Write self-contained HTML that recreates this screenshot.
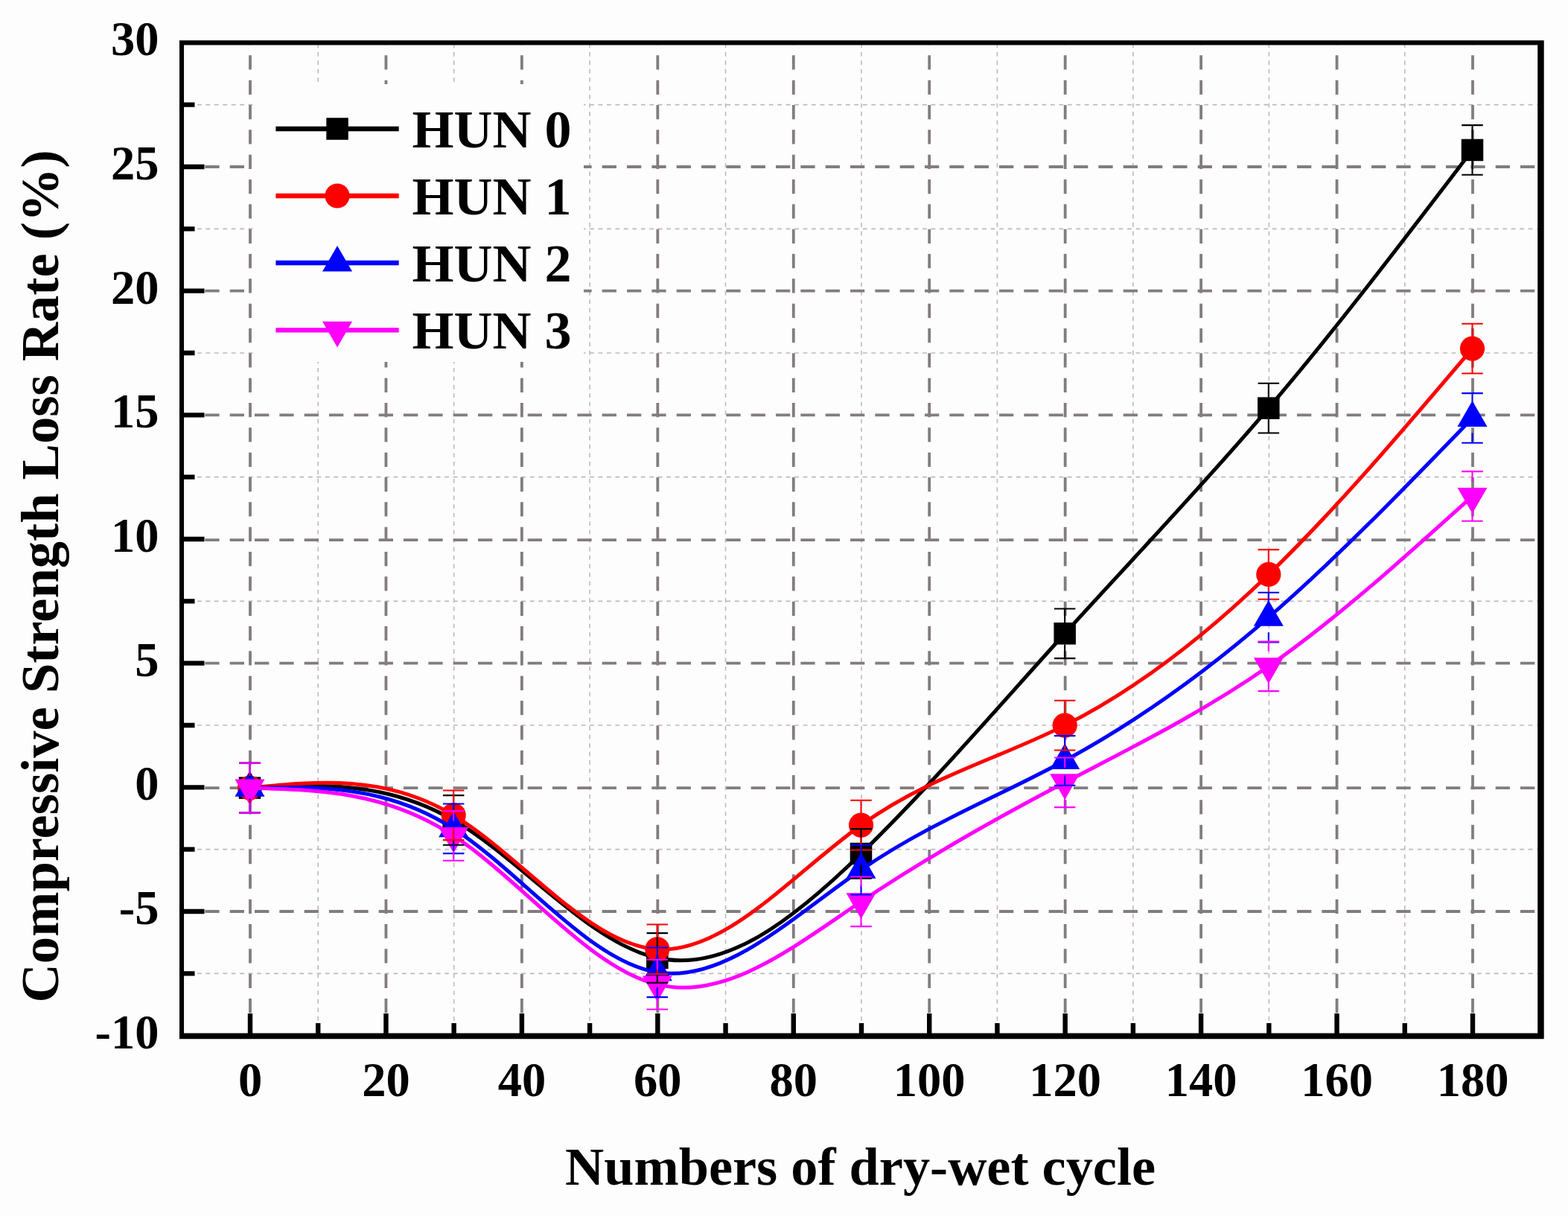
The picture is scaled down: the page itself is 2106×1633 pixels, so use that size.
<!DOCTYPE html>
<html lang="en"><head><meta charset="utf-8"><title>Compressive Strength Loss Rate vs Numbers of dry-wet cycle</title>
<style>html,body{margin:0;padding:0;background:#fdfdfd;}body{width:2106px;height:1633px;overflow:hidden;}svg{display:block;}text{font-family:"Liberation Serif","Times New Roman",serif;font-weight:bold;fill:#000;}</style></head><body>
<svg width="2106" height="1633" viewBox="0 0 2106 1633">
<rect width="2106" height="1633" fill="#fdfdfd"/>
<path d="M427.22 1393.6 V57.3M609.67 1393.6 V57.3M792.11 1393.6 V57.3M974.56 1393.6 V57.3M1157 1393.6 V57.3M1339.44 1393.6 V57.3M1521.89 1393.6 V57.3M1704.33 1393.6 V57.3M1886.78 1393.6 V57.3M242 1307.33 H2069.45M242 1140.66 H2069.45M242 974 H2069.45M242 807.33 H2069.45M242 640.66 H2069.45M242 474 H2069.45M242 307.33 H2069.45M242 140.66 H2069.45" fill="none" stroke="#c2b6c0" stroke-width="1.6" stroke-dasharray="5.8 5.66"/>
<path d="M336 1393.6 V57.3M518.44 1393.6 V57.3M700.89 1393.6 V57.3M883.33 1393.6 V57.3M1065.78 1393.6 V57.3M1248.22 1393.6 V57.3M1430.67 1393.6 V57.3M1613.11 1393.6 V57.3M1795.56 1393.6 V57.3M1978 1393.6 V57.3M242 1224 H2069.45M242 1058.2 H2069.45M242 890.66 H2069.45M242 725.1 H2069.45M242 557.33 H2069.45M242 390.66 H2069.45M242 224 H2069.45" fill="none" stroke="#827c80" stroke-width="3.8" stroke-dasharray="19.3 14.0333"/>
<rect x="340" y="113" width="444" height="373" fill="#fdfdfd"/>
<path d="M335.5 1058.13C426.72 1053.15 517.94 1048.17 609.17 1101.46C700.39 1154.76 791.61 1266.34 882.83 1286.46C974.06 1306.59 1065.28 1235.27 1156.5 1146.46C1247.72 1057.66 1338.94 951.36 1430.17 850.8C1521.39 750.23 1612.61 655.4 1703.83 548.13C1795.06 440.86 1886.28 321.16 1977.5 201.46" fill="none" stroke="#000000" stroke-width="5.0" stroke-linejoin="round" stroke-linecap="round"/>
<g><rect x="320.75" y="1043.38" width="29.5" height="29.5" fill="#000000"/><rect x="594.42" y="1086.71" width="29.5" height="29.5" fill="#000000"/><rect x="868.08" y="1271.71" width="29.5" height="29.5" fill="#000000"/><rect x="1141.75" y="1131.71" width="29.5" height="29.5" fill="#000000"/><rect x="1415.42" y="836.05" width="29.5" height="29.5" fill="#000000"/><rect x="1689.08" y="533.38" width="29.5" height="29.5" fill="#000000"/><rect x="1962.75" y="186.71" width="29.5" height="29.5" fill="#000000"/></g>
<path d="M335.5 1058.13C426.72 1048.97 517.94 1039.81 609.17 1094.8C700.39 1149.78 791.61 1268.92 882.83 1274.8C974.06 1280.68 1065.28 1173.31 1156.5 1108.13C1247.72 1042.95 1338.94 1019.97 1430.17 974.13C1521.39 928.29 1612.61 859.61 1703.83 771.46C1795.06 683.32 1886.28 575.73 1977.5 468.13" fill="none" stroke="#ff0000" stroke-width="5.0" stroke-linejoin="round" stroke-linecap="round"/>
<g><circle cx="335.5" cy="1058.13" r="16.6" fill="#ff0000"/><circle cx="609.17" cy="1094.8" r="16.6" fill="#ff0000"/><circle cx="882.83" cy="1274.8" r="16.6" fill="#ff0000"/><circle cx="1156.5" cy="1108.13" r="16.6" fill="#ff0000"/><circle cx="1430.17" cy="974.13" r="16.6" fill="#ff0000"/><circle cx="1703.83" cy="771.46" r="16.6" fill="#ff0000"/><circle cx="1977.5" cy="468.13" r="16.6" fill="#ff0000"/></g>
<path d="M335.5 1058.13C426.72 1056.1 517.94 1054.06 609.17 1112.8C700.39 1171.53 791.61 1291.04 882.83 1305.8C974.06 1320.55 1065.28 1230.56 1156.5 1168.13C1247.72 1105.7 1338.94 1070.83 1430.17 1021.46C1521.39 972.09 1612.61 908.21 1703.83 829.13C1795.06 750.05 1886.28 655.75 1977.5 561.46" fill="none" stroke="#0000ff" stroke-width="5.0" stroke-linejoin="round" stroke-linecap="round"/>
<g><polygon points="335.5,1035.04 315.5,1069.68 355.5,1069.68" fill="#0000ff"/><polygon points="609.17,1089.7 589.17,1124.34 629.17,1124.34" fill="#0000ff"/><polygon points="882.83,1282.7 862.83,1317.34 902.83,1317.34" fill="#0000ff"/><polygon points="1156.5,1145.04 1136.5,1179.68 1176.5,1179.68" fill="#0000ff"/><polygon points="1430.17,998.37 1410.17,1033.01 1450.17,1033.01" fill="#0000ff"/><polygon points="1703.83,806.04 1683.83,840.68 1723.83,840.68" fill="#0000ff"/><polygon points="1977.5,538.37 1957.5,573.01 1997.5,573.01" fill="#0000ff"/></g>
<path d="M335.5 1058.13C426.72 1060.39 517.94 1062.66 609.17 1122.46C700.39 1182.27 791.61 1299.62 882.83 1322.13C974.06 1344.64 1065.28 1272.33 1156.5 1210.8C1247.72 1149.27 1338.94 1098.53 1430.17 1050.8C1521.39 1003.07 1612.61 958.35 1703.83 894.8C1795.06 831.24 1886.28 748.85 1977.5 666.46" fill="none" stroke="#ff00ff" stroke-width="5.0" stroke-linejoin="round" stroke-linecap="round"/>
<g><polygon points="335.5,1081.22 315.5,1046.58 355.5,1046.58" fill="#ff00ff"/><polygon points="609.17,1145.56 589.17,1110.92 629.17,1110.92" fill="#ff00ff"/><polygon points="882.83,1345.22 862.83,1310.58 902.83,1310.58" fill="#ff00ff"/><polygon points="1156.5,1233.89 1136.5,1199.25 1176.5,1199.25" fill="#ff00ff"/><polygon points="1430.17,1073.89 1410.17,1039.25 1450.17,1039.25" fill="#ff00ff"/><polygon points="1703.83,917.89 1683.83,883.25 1723.83,883.25" fill="#ff00ff"/><polygon points="1977.5,689.56 1957.5,654.92 1997.5,654.92" fill="#ff00ff"/></g>
<path d="M335.5 1024.8V1043.38M335.5 1072.88V1091.46M321.25 1024.8H349.75M321.25 1091.46H349.75M609.17 1068.13V1086.71M609.17 1116.21V1134.8M594.92 1068.13H623.42M594.92 1134.8H623.42M882.83 1253.13V1271.71M882.83 1301.21V1319.8M868.58 1253.13H897.08M868.58 1319.8H897.08M1156.5 1113.13V1131.71M1156.5 1161.21V1179.8M1142.25 1113.13H1170.75M1142.25 1179.8H1170.75M1430.17 817.46V836.05M1430.17 865.55V884.13M1415.92 817.46H1444.42M1415.92 884.13H1444.42M1703.83 514.8V533.38M1703.83 562.88V581.46M1689.58 514.8H1718.08M1689.58 581.46H1718.08M1977.5 168.13V186.71M1977.5 216.21V234.8M1963.25 168.13H1991.75M1963.25 234.8H1991.75" fill="none" stroke="#000000" stroke-width="2.1"/>
<path d="M335.5 1024.8V1041.63M335.5 1074.63V1091.46M321.25 1024.8H349.75M321.25 1091.46H349.75M609.17 1061.46V1078.3M609.17 1111.3V1128.13M594.92 1061.46H623.42M594.92 1128.13H623.42M882.83 1241.46V1258.3M882.83 1291.3V1308.13M868.58 1241.46H897.08M868.58 1308.13H897.08M1156.5 1074.8V1091.63M1156.5 1124.63V1141.46M1142.25 1074.8H1170.75M1142.25 1141.46H1170.75M1430.17 940.8V957.63M1430.17 990.63V1007.46M1415.92 940.8H1444.42M1415.92 1007.46H1444.42M1703.83 738.13V754.96M1703.83 787.96V804.8M1689.58 738.13H1718.08M1689.58 804.8H1718.08M1977.5 434.8V451.63M1977.5 484.63V501.46M1963.25 434.8H1991.75M1963.25 501.46H1991.75" fill="none" stroke="#ff0000" stroke-width="2.1"/>
<path d="M335.5 1024.8V1038.13M335.5 1078.13V1091.46M321.25 1024.8H349.75M321.25 1091.46H349.75M609.17 1079.46V1092.8M609.17 1132.8V1146.13M594.92 1079.46H623.42M594.92 1146.13H623.42M882.83 1272.46V1285.8M882.83 1325.8V1339.13M868.58 1272.46H897.08M868.58 1339.13H897.08M1156.5 1134.8V1148.13M1156.5 1188.13V1201.46M1142.25 1134.8H1170.75M1142.25 1201.46H1170.75M1430.17 988.13V1001.46M1430.17 1041.46V1054.8M1415.92 988.13H1444.42M1415.92 1054.8H1444.42M1703.83 795.8V809.13M1703.83 849.13V862.46M1689.58 795.8H1718.08M1689.58 862.46H1718.08M1977.5 528.13V541.46M1977.5 581.46V594.8M1963.25 528.13H1991.75M1963.25 594.8H1991.75" fill="none" stroke="#0000ff" stroke-width="2.1"/>
<path d="M335.5 1024.8V1038.13M335.5 1078.13V1091.46M321.25 1024.8H349.75M321.25 1091.46H349.75M609.17 1089.13V1102.46M609.17 1142.46V1155.8M594.92 1089.13H623.42M594.92 1155.8H623.42M882.83 1288.8V1302.13M882.83 1342.13V1355.46M868.58 1288.8H897.08M868.58 1355.46H897.08M1156.5 1177.46V1190.8M1156.5 1230.8V1244.13M1142.25 1177.46H1170.75M1142.25 1244.13H1170.75M1430.17 1017.46V1030.8M1430.17 1070.8V1084.13M1415.92 1017.46H1444.42M1415.92 1084.13H1444.42M1703.83 861.46V874.8M1703.83 914.8V928.13M1689.58 861.46H1718.08M1689.58 928.13H1718.08M1977.5 633.13V646.46M1977.5 686.46V699.8M1963.25 633.13H1991.75M1963.25 699.8H1991.75" fill="none" stroke="#ff00ff" stroke-width="2.1"/>
<path d="M336 1391.4V1360.9M427.22 1391.4V1373.9M518.44 1391.4V1360.9M609.67 1391.4V1373.9M700.89 1391.4V1360.9M792.11 1391.4V1373.9M883.33 1391.4V1360.9M974.56 1391.4V1373.9M1065.78 1391.4V1360.9M1157 1391.4V1373.9M1248.22 1391.4V1360.9M1339.44 1391.4V1373.9M1430.67 1391.4V1360.9M1521.89 1391.4V1373.9M1613.11 1391.4V1360.9M1704.33 1391.4V1373.9M1795.56 1391.4V1360.9M1886.78 1391.4V1373.9M1978 1391.4V1360.9M244.03 1307.33H261.52M244.03 1224H274.52M244.03 1140.66H261.52M244.03 1057.33H274.52M244.03 974H261.52M244.03 890.66H274.52M244.03 807.33H261.52M244.03 724H274.52M244.03 640.66H261.52M244.03 557.33H274.52M244.03 474H261.52M244.03 390.66H274.52M244.03 307.33H261.52M244.03 224H274.52M244.03 140.66H261.52" fill="none" stroke="#000" stroke-width="6.4"/>
<path fill="#000" fill-rule="evenodd" d="M241 54.2H2073.7V1395.2H241ZM247.05 60.4H2065.2V1387.6H247.05Z"/>
<text x="336" y="1471.5" font-size="64.5" text-anchor="middle">0</text>
<text x="518.44" y="1471.5" font-size="64.5" text-anchor="middle">20</text>
<text x="700.89" y="1471.5" font-size="64.5" text-anchor="middle">40</text>
<text x="883.33" y="1471.5" font-size="64.5" text-anchor="middle">60</text>
<text x="1065.78" y="1471.5" font-size="64.5" text-anchor="middle">80</text>
<text x="1248.22" y="1471.5" font-size="64.5" text-anchor="middle">100</text>
<text x="1430.67" y="1471.5" font-size="64.5" text-anchor="middle">120</text>
<text x="1613.11" y="1471.5" font-size="64.5" text-anchor="middle">140</text>
<text x="1795.56" y="1471.5" font-size="64.5" text-anchor="middle">160</text>
<text x="1978" y="1471.5" font-size="64.5" text-anchor="middle">180</text>
<text x="213.5" y="1407.66" font-size="64.5" text-anchor="end">-10</text>
<text x="213.5" y="1241" font-size="64.5" text-anchor="end">-5</text>
<text x="213.5" y="1074.33" font-size="64.5" text-anchor="end">0</text>
<text x="213.5" y="907.66" font-size="64.5" text-anchor="end">5</text>
<text x="213.5" y="741" font-size="64.5" text-anchor="end">10</text>
<text x="213.5" y="574.33" font-size="64.5" text-anchor="end">15</text>
<text x="213.5" y="407.66" font-size="64.5" text-anchor="end">20</text>
<text x="213.5" y="241" font-size="64.5" text-anchor="end">25</text>
<text x="213.5" y="74.33" font-size="64.5" text-anchor="end">30</text>
<text x="1155.6" y="1591" font-size="72.3" text-anchor="middle">Numbers of dry-wet cycle</text>
<text transform="translate(77.6 774) rotate(-90)" font-size="72.5" text-anchor="middle">Compressive Strength Loss Rate (%)</text>
<path d="M370.4 173H535.7" stroke="#000000" stroke-width="6.3"/>
<rect x="438.3" y="158.25" width="29.5" height="29.5" fill="#000000"/>
<text x="553.5" y="198.2" font-size="72">HUN 0</text>
<path d="M370.4 263H535.7" stroke="#ff0000" stroke-width="6.3"/>
<circle cx="453.05" cy="263" r="16.6" fill="#ff0000"/>
<text x="553.5" y="287.8" font-size="72">HUN 1</text>
<path d="M370.4 353H535.7" stroke="#0000ff" stroke-width="6.3"/>
<polygon points="453.05,329.91 433.05,364.55 473.05,364.55" fill="#0000ff"/>
<text x="553.5" y="377.9" font-size="72">HUN 2</text>
<path d="M370.4 443.3H535.7" stroke="#ff00ff" stroke-width="6.3"/>
<polygon points="453.05,466.39 433.05,431.75 473.05,431.75" fill="#ff00ff"/>
<text x="553.5" y="467.8" font-size="72">HUN 3</text>
</svg></body></html>
